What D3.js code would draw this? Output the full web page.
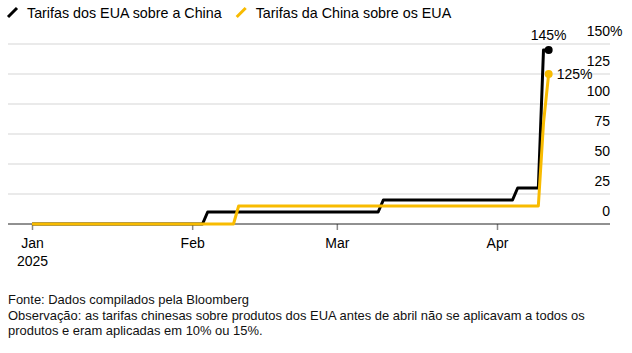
<!DOCTYPE html>
<html>
<head>
<meta charset="utf-8">
<script src="https://d3js.org/d3.v7.min.js"></script>
<style>
  body { margin: 0; background: #fff; }
  svg { display: block; font-family: "Liberation Sans", Arial, sans-serif; }
</style>
</head>
<body>
<div id="chart"></div>
<script>
// data
var usDates = ["2025-01-01", "2025-02-03", "2025-02-04", "2025-03-09", "2025-03-10", "2025-04-04", "2025-04-05", "2025-04-09", "2025-04-10", "2025-04-11"];
var usValues = [0, 0, 10, 10, 20, 20, 30, 30, 145, 145];
var cnDates = ["2025-01-01", "2025-02-09", "2025-02-10", "2025-04-09", "2025-04-10", "2025-04-11"];
var cnValues = [0, 0, 15, 15, 84, 125];
var monthTicks = ["2025-01-01", "2025-02-01", "2025-03-01", "2025-04-01"];
var monthLabels = ["Jan", "Feb", "Mar", "Apr"];
var yTicks = [0, 25, 50, 75, 100, 125, 150];
var seriesNames = ["Tarifas dos EUA sobre a China", "Tarifas da China sobre os EUA"];
var seriesColors = ["#000000", "#f8bb00"];
var footnotes = [
  "Fonte: Dados compilados pela Bloomberg",
  "Observação: as tarifas chinesas sobre produtos dos EUA antes de abril não se aplicavam a todos os",
  "produtos e eram aplicadas em 10% ou 15%."
];

var W = 632, H = 353;
var plotLeft = 8, plotRight = 610;
var parse = d3.utcParse("%Y-%m-%d");

var svg = d3.select("#chart").append("svg")
  .attr("width", W)
  .attr("height", H);

var x = d3.scaleUtc()
  .domain([parse("2025-01-01"), parse("2025-04-01")])
  .range([32, 497]);
var y = d3.scaleLinear()
  .domain([0, 150])
  .range([224, 44]);

// gridlines + right labels
var grid = svg.append("g");
grid.selectAll("line")
  .data(yTicks.filter(function (d) { return d > 0; }))
  .enter().append("line")
  .attr("x1", plotLeft).attr("x2", plotRight)
  .attr("y1", function (d) { return y(d); })
  .attr("y2", function (d) { return y(d); })
  .attr("stroke", "#e3e3e3")
  .attr("stroke-width", 1.5);

var yl = grid.selectAll("text")
  .data(yTicks)
  .enter().append("text")
  .attr("x", plotRight)
  .attr("y", function (d) { return y(d) - 8.5; })
  .attr("text-anchor", "end")
  .style("font-size", "14px")
  .style("fill", "#000")
  .text(function (d) { return d; });
// the % hangs past the right edge
grid.append("text")
  .attr("x", plotRight)
  .attr("y", y(150) - 8.5)
  .style("font-size", "14px")
  .text("%");

// x axis
var xAxis = svg.append("g")
  .attr("transform", "translate(0," + y(0) + ")")
  .call(d3.axisBottom(x)
    .tickValues(monthTicks.map(parse))
    .tickSize(6)
    .tickFormat(function (d, i) { return monthLabels[i]; }));
xAxis.select(".domain").remove();
xAxis.append("line")
  .attr("x1", plotLeft).attr("x2", plotRight)
  .attr("stroke", "#222").attr("stroke-width", 1);
xAxis.selectAll(".tick line").attr("stroke", "#8a8a8a").attr("stroke-width", 1.5);
xAxis.selectAll(".tick text")
  .attr("y", 14)
  .attr("fill", "#000")
  .style("font-size", "14px")
  .style("font-family", "'Liberation Sans', Arial, sans-serif");
xAxis.select(".tick text")
  .append("tspan")
  .attr("x", 0)
  .attr("dy", "1.3em")
  .text("2025");

// lines
var line = d3.line()
  .x(function (d) { return x(d.date); })
  .y(function (d) { return y(d.value); });

function toPoints(dates, values) {
  return dates.map(function (d, i) { return { date: parse(d), value: values[i] }; });
}
var series = [toPoints(usDates, usValues), toPoints(cnDates, cnValues)];

// yellow drawn last: it sits on top of black along the zero line
[0, 1].forEach(function (i) {
  svg.append("path")
    .datum(series[i])
    .attr("d", line)
    .attr("fill", "none")
    .attr("stroke", seriesColors[i])
    .attr("stroke-width", 3)
    .attr("stroke-linejoin", "round");
});

// end dots + labels
series.forEach(function (s, i) {
  var last = s[s.length - 1];
  svg.append("circle")
    .attr("cx", x(last.date))
    .attr("cy", y(last.value))
    .attr("r", 4)
    .attr("fill", seriesColors[i]);
});
var usLast = series[0][series[0].length - 1];
var cnLast = series[1][series[1].length - 1];
svg.append("text")
  .attr("x", x(usLast.date))
  .attr("y", y(usLast.value) - 10)
  .attr("text-anchor", "middle")
  .style("font-size", "14px")
  .text(usLast.value + "%");
svg.append("text")
  .attr("x", x(cnLast.date) + 8)
  .attr("y", y(cnLast.value) + 5)
  .style("font-size", "14px")
  .text(cnLast.value + "%");

// legend
var legend = svg.append("g");
var lx = 8;
seriesNames.forEach(function (name, i) {
  var g = legend.append("g").attr("transform", "translate(" + lx + ",0)");
  g.append("line")
    .attr("x1", 0).attr("y1", 17)
    .attr("x2", 9).attr("y2", 8)
    .attr("stroke", seriesColors[i])
    .attr("stroke-width", 3);
  var t = g.append("text")
    .attr("x", 19)
    .attr("y", 17.5)
    .style("font-size", "14.3px")
    .text(name);
  lx += 19 + t.node().getComputedTextLength() + 15;
});

// footer
svg.append("g").selectAll("text")
  .data(footnotes)
  .enter().append("text")
  .attr("x", 8)
  .attr("y", function (d, i) { return 304 + i * 15.5; })
  .style("font-size", "12.95px")
  .style("fill", "#111")
  .text(function (d) { return d; });
</script>
</body>
</html>
